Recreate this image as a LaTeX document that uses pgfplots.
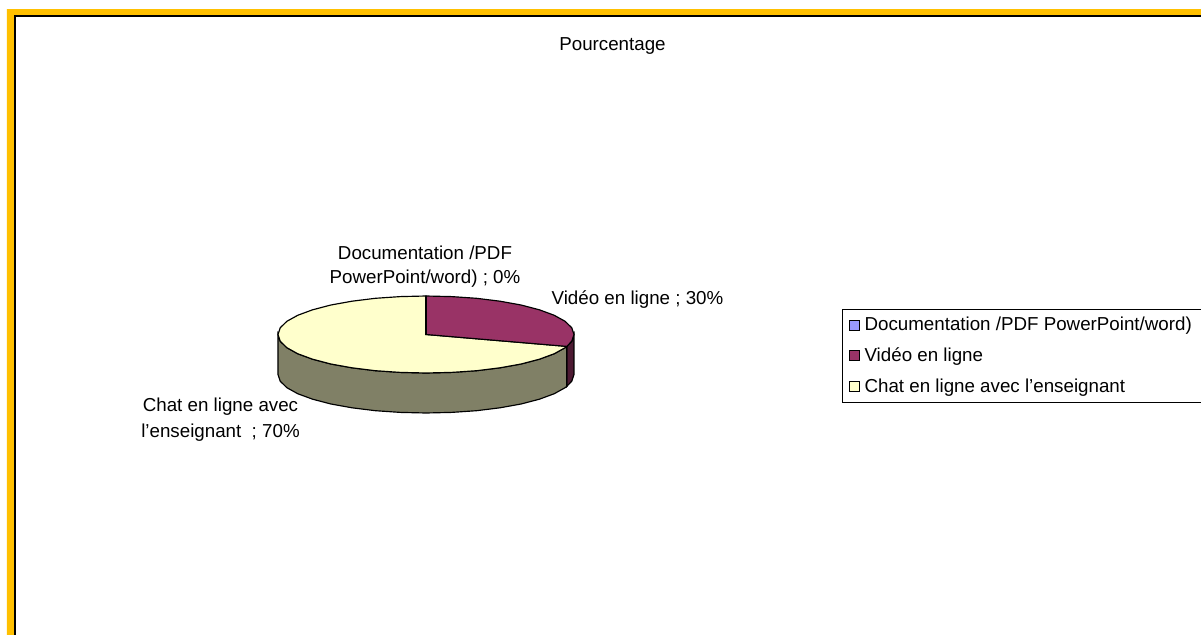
\documentclass[border=0pt]{standalone}
\usepackage{fontspec}
\setmainfont{Liberation Sans}
\usepackage{pgfplots}
\pgfplotsset{compat=1.18}

\definecolor{docblue}{HTML}{9999FF}
\definecolor{maroon}{HTML}{993366}
\definecolor{maroonside}{HTML}{4D1A33}
\definecolor{cream}{HTML}{FFFFCC}
\definecolor{creamside}{HTML}{808066}
\definecolor{frameyellow}{HTML}{FFC000}

% pie shares: documentation 0, video 30, chat 70 (percent)
% all coordinates are reference pixels
\begin{document}
\begin{tikzpicture}[x=0.6pt,y=0.6pt]
\path[use as bounding box] (0,0) rectangle (1201,635);
\begin{axis}[
  at={(0,0)},anchor=south west,
  width=720.6pt,height=381pt,scale only axis,
  xmin=0,xmax=1201,ymin=0,ymax=635,y dir=reverse,
  hide axis,clip=false,
  legend cell align=left,
  legend style={
    at={(axis cs:842,309)},anchor=north west,
    draw=black,line width=0.5pt,
    font=\fontsize{11.25pt}{13pt}\selectfont,
    inner xsep=3.8pt,inner ysep=2.5pt,
    row sep=4.8pt,
    /tikz/every odd column/.append style={column sep=0.6pt},
  },
  legend image code/.code={
    \draw[#1,line width=0.5pt] (0pt,-3pt) rectangle (6.2pt,3pt);
  },
]
% legend swatches
\addlegendimage{draw=black,fill=docblue}
\addlegendentry{\hspace{0.2pt}Documentation /PDF PowerPoint/word)\rule{16pt}{0pt}}
\addlegendimage{draw=black,fill=maroon}
\addlegendentry{\hspace{0.2pt}Vidéo en ligne}
\addlegendimage{draw=black,fill=cream}
\addlegendentry{\hspace{0.2pt}Chat en ligne avec l’enseignant}

% frame
\addplot[forget plot,draw=none,fill=frameyellow] coordinates
  {(7,635) (7,9) (1201,9) (1201,15) (14,15) (14,635)} --cycle;
\addplot[forget plot,draw=black,line width=0.9pt] coordinates
  {(15,635) (15,16) (1201,16)};

% side walls
\addplot[forget plot,draw=black,line width=0.7pt,fill=maroonside] coordinates {
  (574,334.5) (571.8,341.2) (566.8,346.4)
  (566.8,386.4) (571.8,381.2) (574,374.5)} --cycle;
\addplot[forget plot,draw=black,line width=0.7pt,fill=creamside] coordinates {
  (566.8,346.4) (565.1,347.7) (554.2,353.75) (539.4,359.2) (521.1,364) (500,367.8)
  (476.6,370.7) (451.7,372.4) (426,373) (400.3,372.4) (375.4,370.7) (352,367.8)
  (330.9,364) (312.6,359.2) (297.8,353.75) (286.9,347.7) (280.2,341.2) (278,334.5)
  (278,374.5) (280.2,381.2) (286.9,387.7) (297.8,393.75) (312.6,399.2) (330.9,404)
  (352,407.8) (375.4,410.7) (400.3,412.4) (426,413) (451.7,412.4) (476.6,410.7)
  (500,407.8) (521.1,404) (539.4,399.2) (554.2,393.75) (565.1,387.7) (566.8,386.4)} --cycle;

% top face, chat 70%
\addplot[forget plot,draw=black,line width=0.7pt,fill=cream] coordinates {
  (426,334.5) (566.8,346.4) (565.1,347.7) (554.2,353.75) (539.4,359.2) (521.1,364)
  (500,367.8) (476.6,370.7) (451.7,372.4) (426,373) (400.3,372.4) (375.4,370.7)
  (352,367.8) (330.9,364) (312.6,359.2) (297.8,353.75) (286.9,347.7) (280.2,341.2)
  (278,334.5) (280.2,327.8) (286.9,321.3) (297.8,315.25) (312.6,309.8) (330.9,305)
  (352,301.2) (375.4,298.3) (400.3,296.6) (426,296)} --cycle;
% top face, video 30%
\addplot[forget plot,draw=black,line width=0.7pt,fill=maroon] coordinates {
  (426,334.5) (426,296) (451.7,296.6) (476.6,298.3) (500,301.2) (521.1,305)
  (539.4,309.8) (554.2,315.25) (565.1,321.3) (571.8,327.8) (574,334.5)
  (571.8,341.2) (566.8,346.4)} --cycle;
% top face, documentation 0%
\addplot[forget plot,draw=black,line width=0.7pt] coordinates {(426,334.5) (426,296)};

\node[font=\fontsize{11.25pt}{13pt}\selectfont] at (axis cs:612.5,45.5) {Pourcentage};
\node[font=\fontsize{11.25pt}{14.6pt}\selectfont,align=center] at (axis cs:425,266.5)
  {Documentation /PDF\\PowerPoint/word) ; 0\%};
\node[font=\fontsize{11.25pt}{13pt}\selectfont] at (axis cs:637.5,299.5) {Vidéo en ligne ; 30\%};
\node[font=\fontsize{11.25pt}{15.6pt}\selectfont,align=center] at (axis cs:220.5,419.5)
  {Chat en ligne avec\\l’enseignant\ \ ; 70\%};
\end{axis}
\end{tikzpicture}
\end{document}
